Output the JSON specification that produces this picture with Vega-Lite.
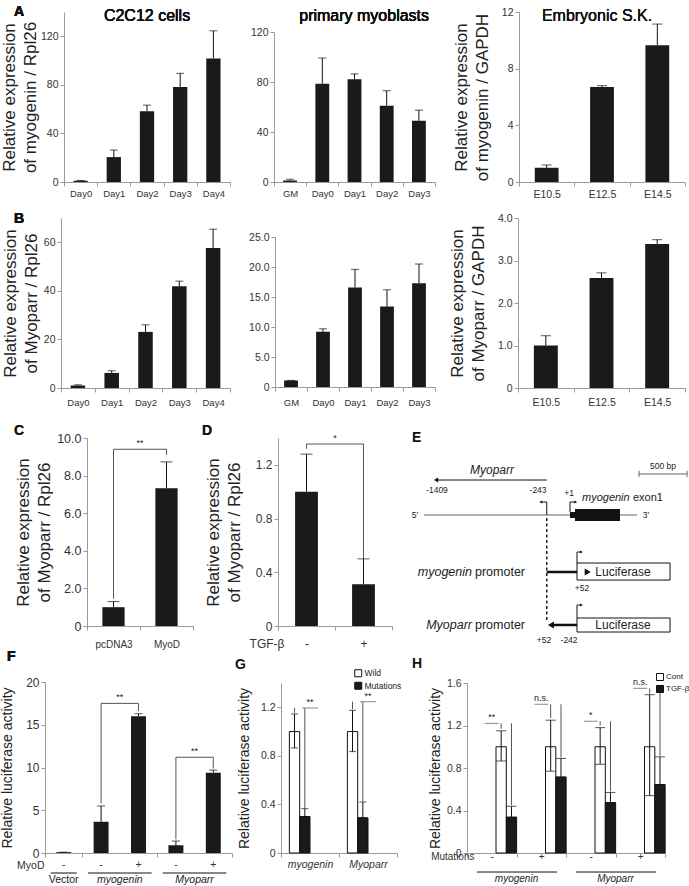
{
"$schema": "https://vega.github.io/schema/vega-lite/v6.json",
"padding": 0,
"background": "white",
"spacing": 0,
"config": {
  "font": "Liberation Sans",
  "view": {"stroke": null},
  "axis": {"domainColor": "#9a9a9a", "tickColor": "#9a9a9a", "labelColor": "#333333", "titleColor": "#222222", "titleFontWeight": "normal", "grid": false, "tickSize": 4, "labelFlush": false, "labelOverlap": false, "domainWidth": 1, "tickWidth": 1},
  "tick": {"thickness": 1},
  "text": {"color": "#222222"}
},
"datasets": {
  "a1": [{"cat":"Day0","value":1.0,"hi":1.3},{"cat":"Day1","value":20.5,"hi":26.3},{"cat":"Day2","value":58.2,"hi":63.3},{"cat":"Day3","value":78.3,"hi":89.5},{"cat":"Day4","value":101.8,"hi":124.5}],
  "a2": [{"cat":"GM","value":1.3,"hi":2.2},{"cat":"Day0","value":78.7,"hi":99.2},{"cat":"Day1","value":82.2,"hi":86.5},{"cat":"Day2","value":61.0,"hi":73.0},{"cat":"Day3","value":49.0,"hi":57.5}],
  "a3": [{"cat":"E10.5","value":1.0,"hi":1.2},{"cat":"E12.5","value":6.7,"hi":6.8},{"cat":"E14.5","value":9.65,"hi":11.15}],
  "b1": [{"cat":"Day0","value":1.0,"hi":1.3},{"cat":"Day1","value":6.2,"hi":7.1},{"cat":"Day2","value":23.1,"hi":26.0},{"cat":"Day3","value":41.9,"hi":44.0},{"cat":"Day4","value":57.6,"hi":65.4}],
  "b2": [{"cat":"GM","value":1.1,"hi":1.1},{"cat":"Day0","value":9.2,"hi":9.7},{"cat":"Day1","value":16.6,"hi":19.6},{"cat":"Day2","value":13.4,"hi":16.2},{"cat":"Day3","value":17.3,"hi":20.5}],
  "b3": [{"cat":"E10.5","value":1.0,"hi":1.23},{"cat":"E12.5","value":2.59,"hi":2.71},{"cat":"E14.5","value":3.39,"hi":3.49}],
  "c": [{"cat":"pcDNA3","value":1.0,"hi":1.3},{"cat":"MyoD","value":7.33,"hi":8.73}],
  "c_sig": [{"left":"pcDNA3","right":"MyoD","level":9.4,"lb":1.45,"rb":9.1,"label":"**"}],
  "d": [{"cat":"-","value":1.0,"hi":1.28},{"cat":"+","value":0.31,"hi":0.5}],
  "d_sig": [{"left":"-","right":"+","level":1.355,"lb":1.32,"rb":0.5,"label":"*"}],
  "f": [{"cat":"Vector|-","sign":"-","value":0.1,"hi":0.1},{"cat":"myogenin|-","sign":"-","value":3.65,"hi":5.5},{"cat":"myogenin|+","sign":"+","value":16.0,"hi":16.3},{"cat":"Myoparr|-","sign":"-","value":0.9,"hi":1.4},{"cat":"Myoparr|+","sign":"+","value":9.4,"hi":9.7}],
  "f_sig": [{"left":"myogenin|-","right":"myogenin|+","level":17.5,"lb":5.8,"rb":16.6,"label":"**"},{"left":"Myoparr|-","right":"Myoparr|+","level":11.2,"lb":1.6,"rb":9.9,"label":"**"}],
  "f_grp": [{"grp":"Vector","first":"Vector|-","last":"Vector|-"},{"grp":"myogenin","first":"myogenin|-","last":"myogenin|+"},{"grp":"Myoparr","first":"Myoparr|-","last":"Myoparr|+"}],
  "g": [{"grp":"myogenin","series":"Wild","value":1.0,"lo":0.865,"hi":1.145},{"grp":"myogenin","series":"Mutations","value":0.30,"lo":0.30,"hi":0.365},{"grp":"Myoparr","series":"Wild","value":1.0,"lo":0.835,"hi":1.175},{"grp":"Myoparr","series":"Mutations","value":0.29,"lo":0.29,"hi":0.42}],
  "g_sig": [{"grp":"myogenin","level":1.194,"label":"**"},{"grp":"Myoparr","level":1.246,"label":"**"}],
  "g_sigv": [{"grp":"myogenin","series":"Wild","top":1.194,"bottom":1.155},{"grp":"myogenin","series":"Mutations","top":1.194,"bottom":0.37},{"grp":"Myoparr","series":"Wild","top":1.246,"bottom":1.185},{"grp":"Myoparr","series":"Mutations","top":1.246,"bottom":0.425}],
  "h": [{"grp":"myogenin|-","series":"Cont","value":1.0,"lo":0.866,"hi":1.15},{"grp":"myogenin|-","series":"TGF-β","value":0.337,"lo":0.337,"hi":0.44},{"grp":"myogenin|+","series":"Cont","value":1.0,"lo":0.77,"hi":1.25},{"grp":"myogenin|+","series":"TGF-β","value":0.715,"lo":0.715,"hi":0.89},{"grp":"Myoparr|-","series":"Cont","value":1.0,"lo":0.835,"hi":1.18},{"grp":"Myoparr|-","series":"TGF-β","value":0.475,"lo":0.475,"hi":0.57},{"grp":"Myoparr|+","series":"Cont","value":1.0,"lo":0.54,"hi":1.49},{"grp":"Myoparr|+","series":"TGF-β","value":0.645,"lo":0.645,"hi":0.905}],
  "h_sig": [{"grp":"myogenin|-","level":1.22,"label":"**"},{"grp":"myogenin|+","level":1.40,"label":"n.s."},{"grp":"Myoparr|-","level":1.24,"label":"*"},{"grp":"Myoparr|+","level":1.55,"label":"n.s."}],
  "h_sigv": [{"grp":"myogenin|-","series":"Cont","top":1.22,"bottom":1.17},{"grp":"myogenin|-","series":"TGF-β","top":1.22,"bottom":0.45},{"grp":"myogenin|+","series":"Cont","top":1.40,"bottom":1.27},{"grp":"myogenin|+","series":"TGF-β","top":1.40,"bottom":0.9},{"grp":"Myoparr|-","series":"Cont","top":1.24,"bottom":1.2},{"grp":"Myoparr|-","series":"TGF-β","top":1.24,"bottom":0.58},{"grp":"Myoparr|+","series":"Cont","top":1.55,"bottom":1.5},{"grp":"Myoparr|+","series":"TGF-β","top":1.55,"bottom":0.915}],
  "h_grp": [{"grp":"myogenin","first":"myogenin|-","last":"myogenin|+"},{"grp":"Myoparr","first":"Myoparr|-","last":"Myoparr|+"}],
  "e_seg": [
    {"x":-1526,"x2":700,"y":1.81,"y2":1.81,"kind":"gray"},
    {"x":721,"x2":1223,"y":6.17,"y2":6.17,"kind":"gray"},
    {"x":721,"x2":721,"y":5.85,"y2":6.5,"kind":"gray"},
    {"x":1223,"x2":1223,"y":5.85,"y2":6.5,"kind":"gray"},
    {"x":-243,"x2":-1390,"y":5.53,"y2":5.53,"kind":"thin"},
    {"x":-243,"x2":-243,"y":1.81,"y2":3.19,"kind":"thin"},
    {"x":-243,"x2":-300,"y":3.19,"y2":3.19,"kind":"thin"},
    {"x":0,"x2":0,"y":2.13,"y2":3.19,"kind":"thin"},
    {"x":0,"x2":55,"y":3.19,"y2":3.19,"kind":"thin"},
    {"x":73,"x2":73,"y":-3.30,"y2":-2.13,"kind":"thin"},
    {"x":73,"x2":115,"y":-2.13,"y2":-2.13,"kind":"thin"},
    {"x":73,"x2":73,"y":-9.15,"y2":-7.77,"kind":"thin"},
    {"x":73,"x2":115,"y":-7.77,"y2":-7.77,"kind":"thin"},
    {"x":-243,"x2":170,"y":-4.26,"y2":-4.26,"kind":"bold"},
    {"x":73,"x2":-185,"y":-9.89,"y2":-9.89,"kind":"bold"},
    {"x":-243,"x2":-243,"y":1.49,"y2":-9.36,"kind":"dash"}
  ],
  "e_rect": [
    {"x":73,"x2":1045,"y":-3.30,"y2":-5.11,"kind":"box"},
    {"x":73,"x2":1045,"y":-9.15,"y2":-10.64,"kind":"box"},
    {"x":0,"x2":52,"y":2.13,"y2":1.49,"kind":"exon"},
    {"x":52,"x2":522,"y":2.45,"y2":1.17,"kind":"exon"}
  ],
  "e_head": [
    {"x":-1400,"y":5.53,"dir":"left","kind":"mid"},
    {"x":-305,"y":3.19,"dir":"left","kind":"small"},
    {"x":60,"y":3.19,"dir":"right","kind":"small"},
    {"x":120,"y":-2.13,"dir":"right","kind":"small"},
    {"x":120,"y":-7.77,"dir":"right","kind":"small"},
    {"x":185,"y":-4.26,"dir":"right","kind":"big"},
    {"x":-200,"y":-9.89,"dir":"left","kind":"big"}
  ],
  "e_text": [
    {"t":"-1409","x":-1390,"y":4.47,"kind":"small"},
    {"t":"-243","x":-334,"y":4.47,"kind":"small"},
    {"t":"+1","x":-10,"y":4.15,"kind":"small"},
    {"t":"5'","x":-1620,"y":1.81,"kind":"small"},
    {"t":"3'","x":794,"y":1.81,"kind":"small"},
    {"t":"+52","x":125,"y":-5.96,"kind":"small"},
    {"t":"+52","x":-272,"y":-11.49,"kind":"small"},
    {"t":"-242","x":-10,"y":-11.49,"kind":"small"},
    {"t":"500 bp","x":972,"y":7.02,"kind":"small"},
    {"t":"Myoparr","x":-815,"y":6.6,"kind":"title"},
    {"t":"myogenin","x":125,"y":3.62,"kind":"exoni"},
    {"t":"exon1","x":658,"y":3.62,"kind":"exonn"},
    {"t":"myogenin","x":-1024,"y":-4.26,"kind":"promi"},
    {"t":"Myoparr","x":-1024,"y":-9.89,"kind":"promi"},
    {"t":"promoter","x":-993,"y":-4.26,"kind":"promn"},
    {"t":"promoter","x":-993,"y":-9.89,"kind":"promn"},
    {"t":"Luciferase","x":554,"y":-4.26,"kind":"luc"},
    {"t":"Luciferase","x":554,"y":-9.89,"kind":"luc"},
    {"t":"E","x":-1651,"y":9.57,"kind":"letter"}
  ]
},
"vconcat": [
 {"hconcat": [
  {"width": 62, "height": 203, "data": {"values": []}, "mark": "point"},
  {"width": 166, "height": 203,
   "data": {"name": "a1"},
   "encoding": {"x": {"field": "cat", "type": "nominal", "sort": null, "scale": {"paddingInner": 0, "paddingOuter": 0}, "axis": {"offset": -21, "title": null, "labelAngle": 0, "tickBand": "extent", "labelFontSize": 9.5, "labelBaseline": "middle", "labelPadding": 7}}},
   "layer": [
     {"mark": {"type": "bar", "fill": "#1a1a1a", "width": {"band": 0.43}}, "encoding": {"y": {"field": "value", "type": "quantitative", "scale": {"domain": [0, 140], "nice": false, "range": [182, 12]}, "axis": {"values": [0,20,40,60,80,100,120,140], "title": ["Relative expression", "of myogenin / Rpl26"], "titleFontSize": 17, "titleLineHeight": 21, "titlePadding": 1, "labelFontSize": 10.5}}}},
     {"mark": {"type": "rule", "color": "#111111"}, "encoding": {"y": {"field": "value", "type": "quantitative"}, "y2": {"field": "hi"}}},
     {"mark": {"type": "tick", "color": "#111111", "size": 8}, "encoding": {"y": {"field": "hi", "type": "quantitative"}}},
     {"mark": {"type": "text", "fontSize": 16, "fontWeight": "normal", "align": "center", "baseline": "alphabetic", "color": "#111111"}, "encoding": {"x": {"datum": "Day2", "type": "nominal"}, "y": {"datum": 132.6}, "text": {"value": "C2C12 cells"}}},
     {"mark": {"type": "text", "fontSize": 14, "fontWeight": "bold", "align": "left", "baseline": "alphabetic", "dx": -50, "color": "#111111"}, "encoding": {"x": {"datum": "Day0", "type": "nominal", "bandPosition": 0}, "y": {"datum": 136.8}, "text": {"value": "A"}}}
   ]},
  {"width": 44, "height": 203, "data": {"values": []}, "mark": "point"},
  {"width": 161, "height": 203,
   "data": {"name": "a2"},
   "encoding": {"x": {"field": "cat", "type": "nominal", "sort": null, "scale": {"paddingInner": 0, "paddingOuter": 0}, "axis": {"offset": -21, "title": null, "labelAngle": 0, "tickBand": "extent", "labelFontSize": 9.5, "labelBaseline": "middle", "labelPadding": 7}}},
   "layer": [
     {"mark": {"type": "bar", "fill": "#1a1a1a", "width": {"band": 0.43}}, "encoding": {"y": {"field": "value", "type": "quantitative", "scale": {"domain": [0, 120], "nice": false, "range": [182, 32]}, "axis": {"values": [0,20,40,60,80,100,120], "title": null, "labelFontSize": 10.5}}}},
     {"mark": {"type": "rule", "color": "#111111"}, "encoding": {"y": {"field": "value", "type": "quantitative"}, "y2": {"field": "hi"}}},
     {"mark": {"type": "tick", "color": "#111111", "size": 8}, "encoding": {"y": {"field": "hi", "type": "quantitative"}}},
     {"mark": {"type": "text", "fontSize": 16, "fontWeight": "normal", "align": "center", "baseline": "alphabetic", "color": "#111111"}, "encoding": {"x": {"datum": "Day1", "type": "nominal", "bandPosition": 0.8}, "y": {"datum": 128.8}, "text": {"value": "primary myoblasts"}}}
   ]},
  {"width": 84, "height": 203, "data": {"values": []}, "mark": "point"},
  {"width": 166, "height": 203,
   "data": {"name": "a3"},
   "encoding": {"x": {"field": "cat", "type": "nominal", "sort": null, "scale": {"paddingInner": 0, "paddingOuter": 0}, "axis": {"offset": -21, "title": null, "labelAngle": 0, "tickBand": "extent", "labelFontSize": 10.5, "labelBaseline": "middle", "labelPadding": 8}}},
   "layer": [
     {"mark": {"type": "bar", "fill": "#1a1a1a", "width": {"band": 0.43}}, "encoding": {"y": {"field": "value", "type": "quantitative", "scale": {"domain": [0, 12], "nice": false, "range": [182, 12]}, "axis": {"values": [0,2,4,6,8,10,12], "title": ["Relative expression", "of myogenin / GAPDH"], "titleFontSize": 17, "titleLineHeight": 21, "titlePadding": 10, "labelFontSize": 10.5}}}},
     {"mark": {"type": "rule", "color": "#111111"}, "encoding": {"y": {"field": "value", "type": "quantitative"}, "y2": {"field": "hi"}}},
     {"mark": {"type": "tick", "color": "#111111", "size": 10}, "encoding": {"y": {"field": "hi", "type": "quantitative"}}},
     {"mark": {"type": "text", "fontSize": 16, "fontWeight": "normal", "align": "center", "baseline": "alphabetic", "color": "#111111"}, "encoding": {"x": {"datum": "E12.5", "type": "nominal", "bandPosition": 0.41}, "y": {"datum": 11.36}, "text": {"value": "Embryonic S.K."}}}
   ]}
 ], "spacing": 0, "bounds": "flush"},

 {"hconcat": [
  {"width": 59, "height": 212, "data": {"values": []}, "mark": "point"},
  {"width": 169, "height": 212,
   "data": {"name": "b1"},
   "encoding": {"x": {"field": "cat", "type": "nominal", "sort": null, "scale": {"paddingInner": 0, "paddingOuter": 0}, "axis": {"offset": -27, "title": null, "labelAngle": 0, "tickBand": "extent", "labelFontSize": 9.5, "labelBaseline": "middle", "labelPadding": 10}}},
   "layer": [
     {"mark": {"type": "bar", "fill": "#1a1a1a", "width": {"band": 0.43}}, "encoding": {"y": {"field": "value", "type": "quantitative", "scale": {"domain": [0, 70], "nice": false, "range": [185, 15]}, "axis": {"values": [0,10,20,30,40,50,60,70], "title": ["Relative expression", "of Myoparr / Rpl26"], "titleFontSize": 17, "titleLineHeight": 21, "titlePadding": 3, "labelFontSize": 10.5}}}},
     {"mark": {"type": "rule", "color": "#111111"}, "encoding": {"y": {"field": "value", "type": "quantitative"}, "y2": {"field": "hi"}}},
     {"mark": {"type": "tick", "color": "#111111", "size": 8}, "encoding": {"y": {"field": "hi", "type": "quantitative"}}},
     {"mark": {"type": "text", "fontSize": 14, "fontWeight": "bold", "align": "left", "baseline": "alphabetic", "dx": -47, "color": "#111111"}, "encoding": {"x": {"datum": "Day0", "type": "nominal", "bandPosition": 0}, "y": {"datum": 68.0}, "text": {"value": "B"}}}
   ]},
  {"width": 45, "height": 212, "data": {"values": []}, "mark": "point"},
  {"width": 160, "height": 212,
   "data": {"name": "b2"},
   "encoding": {"x": {"field": "cat", "type": "nominal", "sort": null, "scale": {"paddingInner": 0, "paddingOuter": 0}, "axis": {"offset": -28, "title": null, "labelAngle": 0, "tickBand": "extent", "labelFontSize": 9.5, "labelBaseline": "middle", "labelPadding": 11}}},
   "layer": [
     {"mark": {"type": "bar", "fill": "#1a1a1a", "width": {"band": 0.43}}, "encoding": {"y": {"field": "value", "type": "quantitative", "scale": {"domain": [0, 25], "nice": false, "range": [184, 34]}, "axis": {"values": [0,5,10,15,20,25], "labelExpr": "datum.value === 0 ? '0' : format(datum.value, '.1f')", "title": null, "labelFontSize": 10.5}}}},
     {"mark": {"type": "rule", "color": "#111111"}, "encoding": {"y": {"field": "value", "type": "quantitative"}, "y2": {"field": "hi"}}},
     {"mark": {"type": "tick", "color": "#111111", "size": 8}, "encoding": {"y": {"field": "hi", "type": "quantitative"}}}
   ]},
  {"width": 83, "height": 212, "data": {"values": []}, "mark": "point"},
  {"width": 167, "height": 212,
   "data": {"name": "b3"},
   "encoding": {"x": {"field": "cat", "type": "nominal", "sort": null, "scale": {"paddingInner": 0, "paddingOuter": 0}, "axis": {"offset": -27, "title": null, "labelAngle": 0, "tickBand": "extent", "labelFontSize": 10.5, "labelBaseline": "middle", "labelPadding": 10}}},
   "layer": [
     {"mark": {"type": "bar", "fill": "#1a1a1a", "width": {"band": 0.43}}, "encoding": {"y": {"field": "value", "type": "quantitative", "scale": {"domain": [0, 4], "nice": false, "range": [185, 15]}, "axis": {"values": [0,0.5,1,1.5,2,2.5,3,3.5,4], "labelExpr": "datum.value === 0 ? '0' : format(datum.value, '.1f')", "title": ["Relative expression", "of Myoparr / GAPDH"], "titleFontSize": 17, "titleLineHeight": 21, "titlePadding": 10, "labelFontSize": 10.5}}}},
     {"mark": {"type": "rule", "color": "#111111"}, "encoding": {"y": {"field": "value", "type": "quantitative"}, "y2": {"field": "hi"}}},
     {"mark": {"type": "tick", "color": "#111111", "size": 10}, "encoding": {"y": {"field": "hi", "type": "quantitative"}}}
   ]}
 ], "spacing": 0, "bounds": "flush"},

 {"hconcat": [
  {"width": 85, "height": 233, "data": {"values": []}, "mark": "point"},
  {"width": 106, "height": 233,
   "layer": [
     {"data": {"name": "c"}, "mark": {"type": "bar", "fill": "#1a1a1a", "width": {"band": 0.42}},
      "encoding": {
        "x": {"field": "cat", "type": "nominal", "scale": {"domain": ["pcDNA3","MyoD"], "paddingInner": 0, "paddingOuter": 0}, "axis": {"offset": -22, "title": null, "labelAngle": 0, "tickBand": "extent", "labelFontSize": 10, "labelBaseline": "middle", "labelPadding": 14}},
        "y": {"field": "value", "type": "quantitative", "scale": {"domain": [0, 10], "nice": false, "range": [211, 23]}, "axis": {"values": [0,1,2,3,4,5,6,7,8,9,10], "labelExpr": "datum.value === 0 ? '0' : format(datum.value, '.1f')", "title": ["Relative expression", "of Myoparr / Rpl26"], "titleFontSize": 17, "titleLineHeight": 21, "titlePadding": 3, "labelFontSize": 12.5}}}},
     {"data": {"name": "c"}, "mark": {"type": "rule", "color": "#111111"}, "encoding": {"x": {"field": "cat", "type": "nominal"}, "y": {"field": "value", "type": "quantitative"}, "y2": {"field": "hi"}}},
     {"data": {"name": "c"}, "mark": {"type": "tick", "color": "#111111", "size": 12}, "encoding": {"x": {"field": "cat", "type": "nominal"}, "y": {"field": "hi", "type": "quantitative"}}},
     {"data": {"name": "c_sig"}, "mark": {"type": "rule", "color": "#555555"}, "encoding": {"x": {"field": "left", "type": "nominal"}, "x2": {"field": "right"}, "y": {"field": "level", "type": "quantitative"}}},
     {"data": {"name": "c_sig"}, "mark": {"type": "rule", "color": "#555555"}, "encoding": {"x": {"field": "left", "type": "nominal"}, "y": {"field": "level", "type": "quantitative"}, "y2": {"field": "lb"}}},
     {"data": {"name": "c_sig"}, "mark": {"type": "rule", "color": "#555555"}, "encoding": {"x": {"field": "right", "type": "nominal"}, "y": {"field": "level", "type": "quantitative"}, "y2": {"field": "rb"}}},
     {"data": {"name": "c_sig"}, "mark": {"type": "text", "fontSize": 9, "baseline": "bottom", "dy": -1}, "encoding": {"x": {"field": "left", "type": "nominal", "bandPosition": 1}, "y": {"field": "level", "type": "quantitative"}, "text": {"field": "label"}}},
     {"data": {"name": "c"}, "mark": {"type": "text", "fontSize": 14, "fontWeight": "bold", "align": "left", "baseline": "alphabetic", "dx": -73, "color": "#111111"}, "encoding": {"x": {"datum": "pcDNA3", "type": "nominal", "bandPosition": 0}, "y": {"datum": 10.16}, "text": {"value": "C"}}}
   ]},
  {"width": 85, "height": 233, "data": {"values": []}, "mark": "point"},
  {"width": 114, "height": 233,
   "layer": [
     {"data": {"name": "d"}, "mark": {"type": "bar", "fill": "#1a1a1a", "width": {"band": 0.4}},
      "encoding": {
        "x": {"field": "cat", "type": "nominal", "scale": {"domain": ["-","+"], "paddingInner": 0, "paddingOuter": 0}, "axis": {"offset": -22, "title": "TGF-β", "titleX": 6, "titleY": 17, "titleAlign": "right", "titleBaseline": "middle", "titleFontSize": 12, "titleColor": "#333333", "labelAngle": 0, "tickBand": "extent", "labelFontSize": 12, "labelBaseline": "middle", "labelPadding": 13}},
        "y": {"field": "value", "type": "quantitative", "scale": {"domain": [0, 1.4], "nice": false, "range": [211, 23]}, "axis": {"values": [0,0.2,0.4,0.6,0.8,1,1.2,1.4], "labelExpr": "datum.value === 0 ? '0' : format(datum.value, '.1f')", "title": ["Relative expression", "of Myoparr / Rpl26"], "titleFontSize": 17, "titleLineHeight": 21, "titlePadding": 12, "labelFontSize": 12}}}},
     {"data": {"name": "d"}, "mark": {"type": "rule", "color": "#111111"}, "encoding": {"x": {"field": "cat", "type": "nominal"}, "y": {"field": "value", "type": "quantitative"}, "y2": {"field": "hi"}}},
     {"data": {"name": "d"}, "mark": {"type": "tick", "color": "#111111", "size": 12}, "encoding": {"x": {"field": "cat", "type": "nominal"}, "y": {"field": "hi", "type": "quantitative"}}},
     {"data": {"name": "d_sig"}, "mark": {"type": "rule", "color": "#555555"}, "encoding": {"x": {"field": "left", "type": "nominal"}, "x2": {"field": "right"}, "y": {"field": "level", "type": "quantitative"}}},
     {"data": {"name": "d_sig"}, "mark": {"type": "rule", "color": "#555555"}, "encoding": {"x": {"field": "left", "type": "nominal"}, "y": {"field": "level", "type": "quantitative"}, "y2": {"field": "lb"}}},
     {"data": {"name": "d_sig"}, "mark": {"type": "rule", "color": "#555555"}, "encoding": {"x": {"field": "right", "type": "nominal"}, "y": {"field": "level", "type": "quantitative"}, "y2": {"field": "rb"}}},
     {"data": {"name": "d_sig"}, "mark": {"type": "text", "fontSize": 9, "baseline": "bottom", "dy": -1}, "encoding": {"x": {"field": "left", "type": "nominal", "bandPosition": 1}, "y": {"field": "level", "type": "quantitative"}, "text": {"field": "label"}}},
     {"data": {"name": "d"}, "mark": {"type": "text", "fontSize": 14, "fontWeight": "bold", "align": "left", "baseline": "alphabetic", "dx": -76, "color": "#111111"}, "encoding": {"x": {"datum": "-", "type": "nominal", "bandPosition": 0}, "y": {"datum": 1.422}, "text": {"value": "D"}}}
   ]},
  {"width": 20, "height": 233, "data": {"values": []}, "mark": "point"},
  {"width": 279, "height": 233,
   "encoding": {
     "x": {"field": "x", "type": "quantitative", "scale": {"domain": [-1651, 1264], "nice": false, "zero": false}, "axis": null},
     "y": {"field": "y", "type": "quantitative", "scale": {"domain": [-10, 10], "nice": false, "zero": false, "range": [211, 23]}, "axis": null}
   },
   "layer": [
     {"data": {"name": "e_seg"}, "transform": [{"filter": "datum.kind === 'gray'"}], "mark": {"type": "rule", "color": "#666666", "strokeWidth": 1}, "encoding": {"x2": {"field": "x2"}, "y2": {"field": "y2"}}},
     {"data": {"name": "e_seg"}, "transform": [{"filter": "datum.kind === 'thin'"}], "mark": {"type": "rule", "color": "#111111", "strokeWidth": 1}, "encoding": {"x2": {"field": "x2"}, "y2": {"field": "y2"}}},
     {"data": {"name": "e_seg"}, "transform": [{"filter": "datum.kind === 'bold'"}], "mark": {"type": "rule", "color": "#111111", "strokeWidth": 2.5}, "encoding": {"x2": {"field": "x2"}, "y2": {"field": "y2"}}},
     {"data": {"name": "e_seg"}, "transform": [{"filter": "datum.kind === 'dash'"}], "mark": {"type": "rule", "color": "#222222", "strokeWidth": 1.5, "strokeDash": [3, 2.5]}, "encoding": {"x2": {"field": "x2"}, "y2": {"field": "y2"}}},
     {"data": {"name": "e_rect"}, "transform": [{"filter": "datum.kind === 'exon'"}], "mark": {"type": "rect", "fill": "#111111"}, "encoding": {"x2": {"field": "x2"}, "y2": {"field": "y2"}}},
     {"data": {"name": "e_rect"}, "transform": [{"filter": "datum.kind === 'box'"}], "mark": {"type": "rect", "fill": "#ffffff", "stroke": "#111111", "strokeWidth": 1}, "encoding": {"x2": {"field": "x2"}, "y2": {"field": "y2"}}},
     {"data": {"name": "e_head"}, "transform": [{"filter": "datum.kind === 'small'"}], "mark": {"type": "point", "filled": true, "color": "#111111", "size": 10, "opacity": 1}, "encoding": {"shape": {"field": "dir", "type": "nominal", "scale": {"domain": ["left","right"], "range": ["triangle-left","triangle-right"]}, "legend": null}}},
     {"data": {"name": "e_head"}, "transform": [{"filter": "datum.kind === 'mid'"}], "mark": {"type": "point", "filled": true, "color": "#111111", "size": 25, "opacity": 1}, "encoding": {"shape": {"field": "dir", "type": "nominal", "legend": null}}},
     {"data": {"name": "e_head"}, "transform": [{"filter": "datum.kind === 'big'"}], "mark": {"type": "point", "filled": true, "color": "#111111", "size": 50, "opacity": 1}, "encoding": {"shape": {"field": "dir", "type": "nominal", "legend": null}}},
     {"data": {"name": "e_text"}, "transform": [{"filter": "datum.kind === 'small'"}], "mark": {"type": "text", "fontSize": 8.5, "align": "center", "baseline": "middle"}, "encoding": {"text": {"field": "t"}}},
     {"data": {"name": "e_text"}, "transform": [{"filter": "datum.kind === 'title'"}], "mark": {"type": "text", "fontSize": 12, "fontStyle": "italic", "align": "center", "baseline": "middle"}, "encoding": {"text": {"field": "t"}}},
     {"data": {"name": "e_text"}, "transform": [{"filter": "datum.kind === 'exoni'"}], "mark": {"type": "text", "fontSize": 11, "fontStyle": "italic", "align": "left", "baseline": "middle"}, "encoding": {"text": {"field": "t"}}},
     {"data": {"name": "e_text"}, "transform": [{"filter": "datum.kind === 'exonn'"}], "mark": {"type": "text", "fontSize": 11, "align": "left", "baseline": "middle"}, "encoding": {"text": {"field": "t"}}},
     {"data": {"name": "e_text"}, "transform": [{"filter": "datum.kind === 'promi'"}], "mark": {"type": "text", "fontSize": 12.5, "fontStyle": "italic", "align": "right", "baseline": "middle"}, "encoding": {"text": {"field": "t"}}},
     {"data": {"name": "e_text"}, "transform": [{"filter": "datum.kind === 'promn'"}], "mark": {"type": "text", "fontSize": 12.5, "align": "left", "baseline": "middle"}, "encoding": {"text": {"field": "t"}}},
     {"data": {"name": "e_text"}, "transform": [{"filter": "datum.kind === 'luc'"}], "mark": {"type": "text", "fontSize": 12, "align": "center", "baseline": "middle"}, "encoding": {"text": {"field": "t"}}},
     {"data": {"name": "e_text"}, "transform": [{"filter": "datum.kind === 'letter'"}], "mark": {"type": "text", "fontSize": 14, "fontWeight": "bold", "align": "left", "baseline": "alphabetic", "color": "#111111"}, "encoding": {"text": {"field": "t"}}}
   ]}
 ], "spacing": 0, "bounds": "flush"},

 {"hconcat": [
  {"width": 43, "height": 238, "data": {"values": []}, "mark": "point"},
  {"width": 187, "height": 238,
   "layer": [
     {"data": {"name": "f"}, "mark": {"type": "bar", "fill": "#1a1a1a", "width": {"band": 0.4}},
      "encoding": {
        "x": {"field": "cat", "type": "nominal", "scale": {"domain": ["Vector|-","myogenin|-","myogenin|+","Myoparr|-","Myoparr|+"], "paddingInner": 0, "paddingOuter": 0}, "axis": {"offset": -34, "title": "MyoD", "labels": false, "values": ["Vector|-","myogenin|+","Myoparr|+"], "tickBand": "extent", "titleX": -1, "titleY": 12, "titleAlign": "right", "titleBaseline": "middle", "titleFontSize": 10.5, "titleColor": "#333333"}},
        "y": {"field": "value", "type": "quantitative", "scale": {"domain": [0, 20], "nice": false, "range": [204, 33]}, "axis": {"values": [0,5,10,15,20], "title": "Relative luciferase activity", "titleFontSize": 14, "titlePadding": 11, "labelFontSize": 12}}}},
     {"data": {"name": "f"}, "mark": {"type": "rule", "color": "#111111"}, "encoding": {"x": {"field": "cat", "type": "nominal"}, "y": {"field": "value", "type": "quantitative"}, "y2": {"field": "hi"}}},
     {"data": {"name": "f"}, "mark": {"type": "tick", "color": "#111111", "size": 8}, "encoding": {"x": {"field": "cat", "type": "nominal"}, "y": {"field": "hi", "type": "quantitative"}}},
     {"data": {"name": "f"}, "mark": {"type": "text", "fontSize": 10.5, "baseline": "middle", "color": "#333333"}, "encoding": {"x": {"field": "cat", "type": "nominal"}, "y": {"datum": -1.4}, "text": {"field": "sign"}}},
     {"data": {"name": "f_sig"}, "mark": {"type": "rule", "color": "#555555"}, "encoding": {"x": {"field": "left", "type": "nominal"}, "x2": {"field": "right"}, "y": {"field": "level", "type": "quantitative"}}},
     {"data": {"name": "f_sig"}, "mark": {"type": "rule", "color": "#555555"}, "encoding": {"x": {"field": "left", "type": "nominal"}, "y": {"field": "level", "type": "quantitative"}, "y2": {"field": "lb"}}},
     {"data": {"name": "f_sig"}, "mark": {"type": "rule", "color": "#555555"}, "encoding": {"x": {"field": "right", "type": "nominal"}, "y": {"field": "level", "type": "quantitative"}, "y2": {"field": "rb"}}},
     {"data": {"name": "f_sig"}, "mark": {"type": "text", "fontSize": 9, "baseline": "bottom", "dy": -1}, "encoding": {"x": {"field": "left", "type": "nominal", "bandPosition": 1}, "y": {"field": "level", "type": "quantitative"}, "text": {"field": "label"}}},
     {"data": {"name": "f_grp"}, "mark": {"type": "rule", "color": "#111111"}, "encoding": {"x": {"field": "first", "type": "nominal", "bandPosition": 0.15}, "x2": {"field": "last", "bandPosition": 0.85}, "y": {"datum": -2.34}}},
     {"data": {"name": "f_grp"}, "transform": [{"filter": "datum.grp === 'Vector'"}], "mark": {"type": "text", "fontSize": 10.5, "baseline": "middle"}, "encoding": {"x": {"field": "first", "type": "nominal", "bandPosition": 0.5}, "y": {"datum": -3.16}, "text": {"field": "grp"}}},
     {"data": {"name": "f_grp"}, "transform": [{"filter": "datum.grp !== 'Vector'"}], "mark": {"type": "text", "fontSize": 10.5, "fontStyle": "italic", "baseline": "middle"}, "encoding": {"x": {"field": "first", "type": "nominal", "bandPosition": 1}, "y": {"datum": -3.16}, "text": {"field": "grp"}}},
     {"data": {"name": "f"}, "mark": {"type": "text", "fontSize": 14, "fontWeight": "bold", "align": "left", "baseline": "alphabetic", "dx": -38, "color": "#111111"}, "encoding": {"x": {"datum": "Vector|-", "type": "nominal", "bandPosition": 0}, "y": {"datum": 22.46}, "text": {"value": "F"}}}
   ]},
  {"width": 49, "height": 238, "data": {"values": []}, "mark": "point"},
  {"width": 116, "height": 238,
   "layer": [
     {"data": {"name": "g"}, "mark": {"type": "bar", "stroke": "#111111", "strokeWidth": 1},
      "encoding": {
        "x": {"field": "grp", "type": "nominal", "scale": {"domain": ["myogenin","Myoparr"], "paddingInner": 0, "paddingOuter": 0}, "axis": {"offset": -34, "title": null, "labelAngle": 0, "tickBand": "extent", "labelFontSize": 10.5, "labelFontStyle": "italic", "labelBaseline": "middle", "labelPadding": 7}},
        "xOffset": {"field": "series", "type": "nominal", "scale": {"domain": ["Wild","Mutations"], "paddingInner": 0, "paddingOuter": 0.81}},
        "y": {"field": "value", "type": "quantitative", "scale": {"domain": [0, 1.4], "nice": false, "range": [204, 34]}, "axis": {"values": [0,0.2,0.4,0.6,0.8,1,1.2,1.4], "labelExpr": "datum.value === 0 ? '0' : format(datum.value, '.1f')", "title": "Relative luciferase activity", "titleFontSize": 14, "titlePadding": 9, "labelFontSize": 10.5}},
        "fill": {"field": "series", "type": "nominal", "scale": {"domain": ["Wild","Mutations"], "range": ["#ffffff","#1a1a1a"]}, "legend": {"title": null, "orient": "none", "legendX": 73, "legendY": 20, "symbolType": "square", "symbolSize": 49, "symbolStrokeColor": "#111111", "symbolStrokeWidth": 1, "labelFontSize": 8.5, "labelOffset": 2, "rowPadding": 0.5, "padding": 0, "labelColor": "#222222"}}}},
     {"data": {"name": "g"}, "mark": {"type": "rule", "color": "#111111"}, "encoding": {"x": {"field": "grp", "type": "nominal"}, "xOffset": {"field": "series", "type": "nominal"}, "y": {"field": "lo", "type": "quantitative"}, "y2": {"field": "hi"}}},
     {"data": {"name": "g"}, "mark": {"type": "tick", "color": "#111111", "size": 7}, "encoding": {"x": {"field": "grp", "type": "nominal"}, "xOffset": {"field": "series", "type": "nominal"}, "y": {"field": "hi", "type": "quantitative"}}},
     {"data": {"name": "g"}, "mark": {"type": "tick", "color": "#111111", "size": 7}, "encoding": {"x": {"field": "grp", "type": "nominal"}, "xOffset": {"field": "series", "type": "nominal"}, "y": {"field": "lo", "type": "quantitative"}}},
     {"data": {"name": "g_sig"}, "mark": {"type": "tick", "color": "#555555", "size": 16}, "encoding": {"x": {"field": "grp", "type": "nominal"}, "y": {"field": "level", "type": "quantitative"}}},
     {"data": {"name": "g_sigv"}, "mark": {"type": "rule", "color": "#555555"}, "encoding": {"x": {"field": "grp", "type": "nominal"}, "xOffset": {"field": "series", "type": "nominal"}, "y": {"field": "top", "type": "quantitative"}, "y2": {"field": "bottom"}}},
     {"data": {"name": "g_sig"}, "mark": {"type": "text", "fontSize": 9, "baseline": "bottom", "dy": -1}, "encoding": {"x": {"field": "grp", "type": "nominal"}, "y": {"field": "level", "type": "quantitative"}, "text": {"field": "label"}}},
     {"data": {"name": "g_sig"}, "transform": [{"filter": "datum.grp === 'myogenin'"}], "mark": {"type": "text", "fontSize": 14, "fontWeight": "bold", "align": "left", "baseline": "alphabetic", "dx": -46, "color": "#111111"}, "encoding": {"x": {"datum": "myogenin", "type": "nominal", "bandPosition": 0}, "y": {"datum": 1.515}, "text": {"value": "G"}}}
   ]},
  {"width": 70, "height": 238, "data": {"values": []}, "mark": "point"},
  {"width": 198, "height": 238,
   "layer": [
     {"data": {"name": "h"}, "mark": {"type": "bar", "stroke": "#111111", "strokeWidth": 1},
      "encoding": {
        "x": {"field": "grp", "type": "nominal", "scale": {"domain": ["myogenin|-","myogenin|+","Myoparr|-","Myoparr|+"], "paddingInner": 0, "paddingOuter": 0}, "axis": {"offset": -34, "title": "Mutations", "titleX": 7, "titleY": 3, "titleAlign": "right", "titleBaseline": "middle", "titleFontSize": 10, "titleColor": "#333333", "labelExpr": "split(datum.label, '|')[1]", "labelAngle": 0, "tickBand": "extent", "labelFontSize": 10, "labelBaseline": "middle", "labelPadding": -1}},
        "xOffset": {"field": "series", "type": "nominal", "scale": {"domain": ["Cont","TGF-β"], "paddingInner": 0, "paddingOuter": 0.75}},
        "y": {"field": "value", "type": "quantitative", "scale": {"domain": [0, 1.6], "nice": false, "range": [204, 34]}, "axis": {"values": [0,0.2,0.4,0.6,0.8,1,1.2,1.4,1.6], "labelExpr": "datum.value === 0 ? '0' : format(datum.value, '.1f')", "title": "Relative luciferase activity", "titleFontSize": 14, "titlePadding": 4, "labelFontSize": 10.5}},
        "fill": {"field": "series", "type": "nominal", "scale": {"domain": ["Cont","TGF-β"], "range": ["#ffffff","#1a1a1a"]}, "legend": {"title": null, "orient": "none", "legendX": 189, "legendY": 24, "symbolType": "square", "symbolSize": 49, "symbolStrokeColor": "#111111", "symbolStrokeWidth": 1, "labelFontSize": 8, "labelOffset": 2, "rowPadding": 0, "padding": 0, "labelColor": "#222222"}}}},
     {"data": {"name": "h"}, "mark": {"type": "rule", "color": "#111111"}, "encoding": {"x": {"field": "grp", "type": "nominal"}, "xOffset": {"field": "series", "type": "nominal"}, "y": {"field": "lo", "type": "quantitative"}, "y2": {"field": "hi"}}},
     {"data": {"name": "h"}, "mark": {"type": "tick", "color": "#111111", "size": 10}, "encoding": {"x": {"field": "grp", "type": "nominal"}, "xOffset": {"field": "series", "type": "nominal"}, "y": {"field": "hi", "type": "quantitative"}}},
     {"data": {"name": "h"}, "mark": {"type": "tick", "color": "#111111", "size": 10}, "encoding": {"x": {"field": "grp", "type": "nominal"}, "xOffset": {"field": "series", "type": "nominal"}, "y": {"field": "lo", "type": "quantitative"}}},
     {"data": {"name": "h_sig"}, "mark": {"type": "tick", "color": "#555555", "size": 14}, "encoding": {"x": {"field": "grp", "type": "nominal"}, "y": {"field": "level", "type": "quantitative"}}},
     {"data": {"name": "h_sigv"}, "mark": {"type": "rule", "color": "#555555"}, "encoding": {"x": {"field": "grp", "type": "nominal"}, "xOffset": {"field": "series", "type": "nominal"}, "y": {"field": "top", "type": "quantitative"}, "y2": {"field": "bottom"}}},
     {"data": {"name": "h_sig"}, "mark": {"type": "text", "fontSize": 9, "baseline": "bottom", "dy": -1}, "encoding": {"x": {"field": "grp", "type": "nominal"}, "y": {"field": "level", "type": "quantitative"}, "text": {"field": "label"}}},
     {"data": {"name": "h_grp"}, "mark": {"type": "rule", "color": "#111111"}, "encoding": {"x": {"field": "first", "type": "nominal", "bandPosition": 0.2}, "x2": {"field": "last", "bandPosition": 0.82}, "y": {"datum": -0.179}}},
     {"data": {"name": "h_grp"}, "mark": {"type": "text", "fontSize": 10, "fontStyle": "italic", "baseline": "middle"}, "encoding": {"x": {"field": "first", "type": "nominal", "bandPosition": 1}, "y": {"datum": -0.245}, "text": {"field": "grp"}}},
     {"data": {"name": "h_grp"}, "transform": [{"filter": "datum.grp === 'myogenin'"}], "mark": {"type": "text", "fontSize": 14, "fontWeight": "bold", "align": "left", "baseline": "alphabetic", "dx": -55, "color": "#111111"}, "encoding": {"x": {"datum": "myogenin|-", "type": "nominal", "bandPosition": 0}, "y": {"datum": 1.741}, "text": {"value": "H"}}}
   ]}
 ], "spacing": 0, "bounds": "flush", "resolve": {"scale": {"fill": "independent"}}}
]
}
